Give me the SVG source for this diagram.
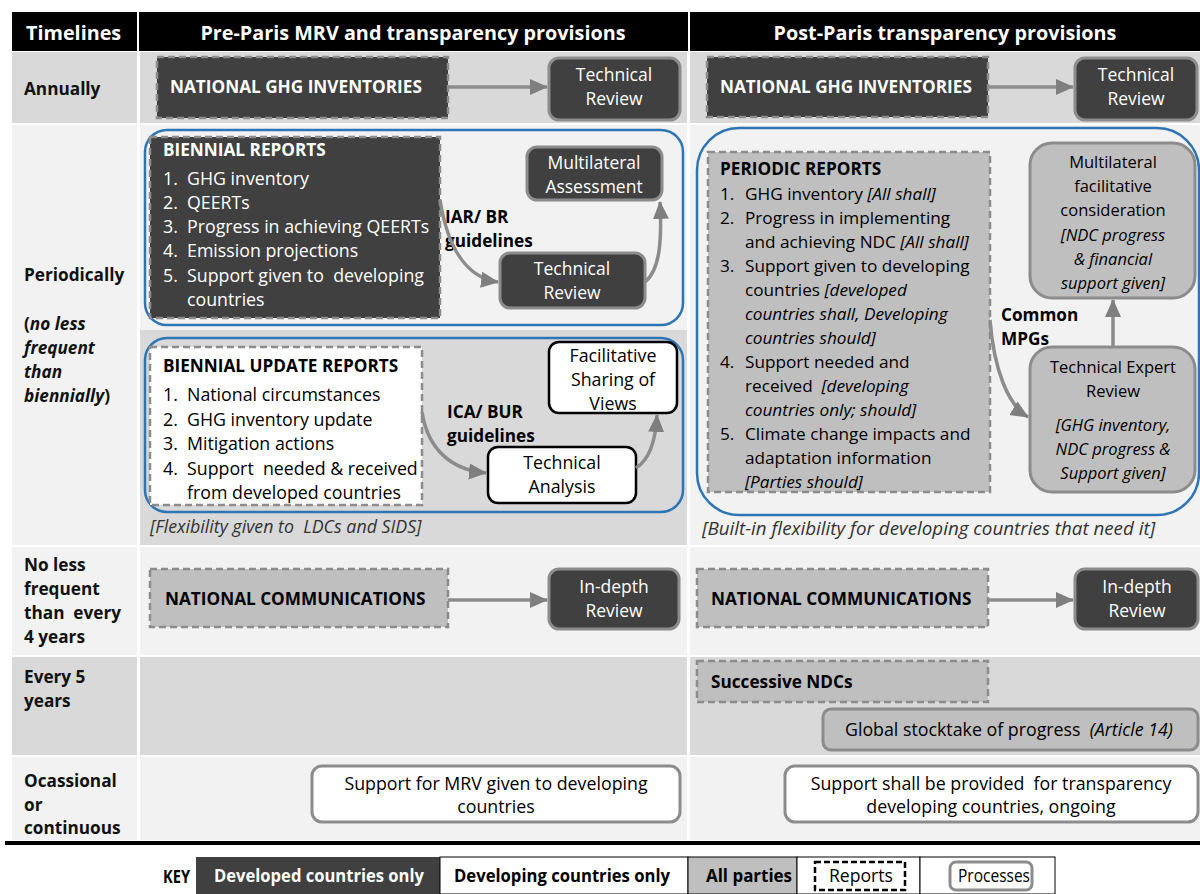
<svg xmlns="http://www.w3.org/2000/svg" width="1200" height="894" viewBox="0 0 1200 894">
<defs>
<marker id="ah" markerWidth="20" markerHeight="20" refX="17" refY="9" orient="auto" markerUnits="userSpaceOnUse">
<path d="M0,1 L18,9 L0,17 Z" fill="#7f7f7f"/>
</marker>
</defs>
<style>
text{font-family:"Open Sans","Liberation Sans",sans-serif;font-size:17.5px;}
.b{font-weight:bold;font-size:17.2px;}
.i{font-style:italic;}
.w{fill:#ffffff;}
.k{fill:#000000;}
.hd{font-size:19.8px;font-weight:bold;fill:#fff;}
.tl{font-size:17.2px;font-weight:bold;fill:#111;}
.rl{font-size:17.2px;}
.rb{font-size:16.5px;}
.big{font-size:17.8px;}
.kt{font-size:18.5px;}
.c{text-anchor:middle;}
.dark{fill:#404040;}
.rep{stroke:#8c8c8c;stroke-width:2.5;stroke-dasharray:7,4;}
.proc{stroke:#8c8c8c;stroke-width:3;}
.blue{fill:none;stroke:#2e75b6;stroke-width:2.5;}
.conn path{fill:none;stroke:#8c8c8c;stroke-width:3.5;marker-end:url(#ah);}
</style>
<rect x="0" y="0" width="1200" height="894" fill="#ffffff"/>
<g id="grid">
<rect x="12" y="12" width="1188" height="39" fill="#000"/>
<rect x="137" y="12" width="2" height="39" fill="#fff"/>
<rect x="688" y="12" width="2" height="39" fill="#fff"/>
<rect x="12" y="52" width="1188" height="71" fill="#d9d9d9"/>
<rect x="12" y="125" width="1188" height="420" fill="#f2f2f2"/>
<rect x="140" y="330" width="547" height="215" fill="#d9d9d9"/>
<rect x="12" y="547" width="1188" height="108" fill="#f2f2f2"/>
<rect x="12" y="657" width="1188" height="98" fill="#d9d9d9"/>
<rect x="12" y="757" width="1188" height="83" fill="#f2f2f2"/>
<rect x="137" y="52" width="3" height="788" fill="#fff"/>
<rect x="687" y="52" width="3" height="788" fill="#fff"/>
<rect x="12" y="123" width="1188" height="2" fill="#fff"/>
<rect x="12" y="545" width="1188" height="2" fill="#fff"/>
<rect x="12" y="655" width="1188" height="2" fill="#fff"/>
<rect x="12" y="755" width="1188" height="2" fill="#fff"/>
<rect x="5" y="841" width="1195" height="4" fill="#000"/>
</g>
<g id="headers">
<text x="26" y="40" class="hd">Timelines</text>
<text x="413" y="40" class="hd c">Pre-Paris MRV and transparency provisions</text>
<text x="945" y="40" class="hd c">Post-Paris transparency provisions</text>
</g>
<g id="timeline-labels">
<text x="24" y="95" class="tl">Annually</text>
<text x="24" y="281" class="tl">Periodically</text>
<text x="24" y="330" class="tl">(<tspan class="i">no less</tspan></text>
<text x="24" y="354" class="tl i">frequent</text>
<text x="24" y="378" class="tl i">than</text>
<text x="24" y="402" class="tl"><tspan class="i">biennially</tspan>)</text>
<text x="24" y="571" class="tl">No less</text>
<text x="24" y="595" class="tl">frequent</text>
<text x="24" y="619" class="tl" xml:space="preserve">than  every</text>
<text x="24" y="643" class="tl">4 years</text>
<text x="24" y="683" class="tl">Every 5</text>
<text x="24" y="707" class="tl">years</text>
<text x="24" y="787" class="tl">Ocassional</text>
<text x="24" y="811" class="tl">or</text>
<text x="24" y="834" class="tl">continuous</text>
</g>
<g id="groupings">
<rect x="145" y="130" width="538" height="195" rx="22" class="blue"/>
<rect x="145" y="338" width="538" height="174" rx="22" class="blue"/>
<rect x="697" y="128" width="502" height="387" rx="42" class="blue"/>
</g>
<g id="ghg-pre">
<rect x="157" y="57" width="291" height="61" class="dark rep"/>
<text x="170" y="93" class="b w">NATIONAL GHG INVENTORIES</text>
</g>
<g id="tr-pre">
<rect x="549" y="58" width="131" height="62" rx="10" class="dark proc"/>
<text x="614" y="81" class="w c">Technical</text>
<text x="614" y="105" class="w c">Review</text>
</g>
<g id="ghg-post">
<rect x="707" y="57" width="281" height="60" class="dark rep"/>
<text x="720" y="93" class="b w">NATIONAL GHG INVENTORIES</text>
</g>
<g id="tr-post">
<rect x="1075" y="58" width="122" height="62" rx="10" class="dark proc"/>
<text x="1136" y="81" class="w c">Technical</text>
<text x="1136" y="105" class="w c">Review</text>
</g>
<g id="br">
<rect x="150" y="137" width="290" height="181" class="dark rep"/>
<text x="163" y="156" class="b w">BIENNIAL REPORTS</text>
<text x="163" y="185" class="w big">1.</text><text x="187" y="185" class="w big">GHG inventory</text>
<text x="163" y="209" class="w big">2.</text><text x="187" y="209" class="w big">QEERTs</text>
<text x="163" y="233" class="w big">3.</text><text x="187" y="233" class="w big">Progress in achieving QEERTs</text>
<text x="163" y="257" class="w big">4.</text><text x="187" y="257" class="w big">Emission projections</text>
<text x="163" y="282" class="w big">5.</text><text x="187" y="282" class="w big" xml:space="preserve">Support given to  developing</text>
<text x="187" y="306" class="w big">countries</text>
</g>
<g id="ma">
<rect x="527" y="147" width="135" height="53" rx="10" class="dark proc"/>
<text x="594" y="169" class="w c">Multilateral</text>
<text x="594" y="193" class="w c">Assessment</text>
</g>
<g id="tr-br">
<rect x="500" y="253" width="145" height="55" rx="10" class="dark proc"/>
<text x="572" y="275" class="w c">Technical</text>
<text x="572" y="299" class="w c">Review</text>
</g>
<text x="445" y="223" class="b k">IAR/ BR</text>
<text x="445" y="247" class="b k">guidelines</text>
<g id="bur">
<rect x="150" y="347" width="272" height="158" fill="#ffffff" class="rep"/>
<text x="163" y="372" class="b k">BIENNIAL UPDATE REPORTS</text>
<text x="163" y="401" class="k big">1.</text><text x="187" y="401" class="k big">National circumstances</text>
<text x="163" y="426" class="k big">2.</text><text x="187" y="426" class="k big">GHG inventory update</text>
<text x="163" y="450" class="k big">3.</text><text x="187" y="450" class="k big">Mitigation actions</text>
<text x="163" y="475" class="k big">4.</text><text x="187" y="475" class="k big" xml:space="preserve">Support  needed &amp; received</text>
<text x="187" y="499" class="k big">from developed countries</text>
</g>
<g id="fsv">
<rect x="549" y="342" width="128" height="71" rx="10" fill="#fff" stroke="#000" stroke-width="2.5"/>
<text x="613" y="362" class="k c big">Facilitative</text>
<text x="613" y="386" class="k c big">Sharing of</text>
<text x="613" y="410" class="k c big">Views</text>
</g>
<g id="ta">
<rect x="488" y="447" width="148" height="56" rx="10" fill="#fff" stroke="#000" stroke-width="2.5"/>
<text x="562" y="469" class="k c big">Technical</text>
<text x="562" y="493" class="k c big">Analysis</text>
</g>
<text x="447" y="418" class="b k">ICA/ BUR</text>
<text x="447" y="442" class="b k">guidelines</text>
<text x="150" y="533" class="i big" fill="#333" xml:space="preserve">[Flexibility given to  LDCs and SIDS]</text>
<g id="pr">
<rect x="708" y="152" width="282" height="340" fill="#bfbfbf" class="rep"/>
<text x="720" y="175" class="b k">PERIODIC REPORTS</text>
<text x="720" y="200" class="k rl">1.</text><text x="745" y="200" class="k rl">GHG inventory <tspan class="i">[All shall]</tspan></text>
<text x="720" y="224" class="k rl">2.</text><text x="745" y="224" class="k rl">Progress in implementing</text>
<text x="745" y="248" class="k rl">and achieving NDC <tspan class="i">[All shall]</tspan></text>
<text x="720" y="272" class="k rl">3.</text><text x="745" y="272" class="k rl">Support given to developing</text>
<text x="745" y="296" class="k rl">countries <tspan class="i">[developed</tspan></text>
<text x="745" y="320" class="k i rl">countries shall, Developing</text>
<text x="745" y="344" class="k i rl">countries should]</text>
<text x="720" y="368" class="k rl">4.</text><text x="745" y="368" class="k rl">Support needed and</text>
<text x="745" y="392" class="k rl" xml:space="preserve">received  <tspan class="i">[developing</tspan></text>
<text x="745" y="416" class="k i rl">countries only; should]</text>
<text x="720" y="440" class="k rl">5.</text><text x="745" y="440" class="k rl">Climate change impacts and</text>
<text x="745" y="464" class="k rl">adaptation information</text>
<text x="745" y="488" class="k i rl">[Parties should]</text>
</g>
<g id="mfc">
<rect x="1030" y="143" width="165" height="155" rx="22" fill="#bfbfbf" class="proc"/>
<text x="1113" y="168" class="k c rb">Multilateral</text>
<text x="1113" y="192" class="k c rb">facilitative</text>
<text x="1113" y="216" class="k c rb">consideration</text>
<text x="1113" y="241" class="k c i rb">[NDC progress</text>
<text x="1113" y="265" class="k c i rb">&amp; financial</text>
<text x="1113" y="289" class="k c i rb">support given]</text>
</g>
<g id="ter">
<rect x="1030" y="347" width="165" height="145" rx="22" fill="#bfbfbf" class="proc"/>
<text x="1113" y="373" class="k c rb">Technical Expert</text>
<text x="1113" y="397" class="k c rb">Review</text>
<text x="1113" y="431" class="k c i rb">[GHG inventory,</text>
<text x="1113" y="455" class="k c i rb">NDC progress &amp;</text>
<text x="1113" y="479" class="k c i rb">Support given]</text>
</g>
<text x="1001" y="321" class="b k">Common</text>
<text x="1001" y="345" class="b k">MPGs</text>
<text x="702" y="535" class="i" fill="#333" style="font-size:18.8px">[Built-in flexibility for developing countries that need it]</text>
<g id="nc-pre">
<rect x="150" y="569" width="298" height="58" fill="#bfbfbf" class="rep"/>
<text x="165" y="605" class="b k">NATIONAL COMMUNICATIONS</text>
</g>
<g id="idr-pre">
<rect x="549" y="569" width="130" height="60" rx="10" class="dark proc"/>
<text x="614" y="593" class="w c">In-depth</text>
<text x="614" y="617" class="w c">Review</text>
</g>
<g id="nc-post">
<rect x="697" y="569" width="291" height="58" fill="#bfbfbf" class="rep"/>
<text x="711" y="605" class="b k">NATIONAL COMMUNICATIONS</text>
</g>
<g id="idr-post">
<rect x="1075" y="569" width="123" height="60" rx="10" class="dark proc"/>
<text x="1137" y="593" class="w c">In-depth</text>
<text x="1137" y="617" class="w c">Review</text>
</g>
<g id="ndc">
<rect x="697" y="661" width="291" height="41" fill="#bfbfbf" class="rep"/>
<text x="711" y="688" class="b k">Successive NDCs</text>
</g>
<g id="gst">
<rect x="823" y="709" width="375" height="41" rx="8" fill="#bfbfbf" class="proc"/>
<text x="845" y="736" class="k big" xml:space="preserve">Global stocktake of progress  <tspan class="i">(Article 14)</tspan></text>
</g>
<g id="sup-pre">
<rect x="312" y="766" width="368" height="56" rx="10" fill="#fff" class="proc"/>
<text x="496" y="790" class="k c big">Support for MRV given to developing</text>
<text x="496" y="813" class="k c big">countries</text>
</g>
<g id="sup-post">
<rect x="785" y="766" width="413" height="56" rx="10" fill="#fff" class="proc"/>
<text x="991" y="790" class="k c big" xml:space="preserve">Support shall be provided  for transparency</text>
<text x="991" y="813" class="k c big">developing countries, ongoing</text>
</g>
<g id="connectors" class="conn">
<path d="M448,87 L547,87"/>
<path d="M988,87 L1073,87"/>
<path d="M440,200 C448,250 468,278 498,282"/>
<path d="M645,282 C660,270 662,240 660,202"/>
<path d="M422,412 C428,450 452,470 486,473"/>
<path d="M636,468 C652,458 656,435 657,415"/>
<path d="M990,320 C994,370 1008,405 1028,417"/>
<path d="M1113,347 L1113,300"/>
<path d="M448,600 L547,600"/>
<path d="M988,600 L1073,600"/>
</g>
<g id="key">
<text x="163" y="883" class="b k kt" textLength="27" lengthAdjust="spacingAndGlyphs">KEY</text>
<rect x="196" y="857" width="244" height="37" fill="#404040"/>
<text x="214" y="882" class="b w kt" textLength="210" lengthAdjust="spacingAndGlyphs">Developed countries only</text>
<rect x="440" y="857" width="248" height="37" fill="#fff" stroke="#000" stroke-width="1"/>
<text x="454" y="882" class="b k kt" textLength="216" lengthAdjust="spacingAndGlyphs">Developing countries only</text>
<rect x="688" y="857" width="109" height="37" fill="#bfbfbf" stroke="#000" stroke-width="1"/>
<text x="706" y="882" class="b k kt" textLength="86" lengthAdjust="spacingAndGlyphs">All parties</text>
<rect x="797" y="857" width="123" height="37" fill="#fff" stroke="#000" stroke-width="1"/>
<rect x="815" y="862" width="90" height="28" fill="#fff" stroke="#000" stroke-width="2.5" stroke-dasharray="6,3"/>
<text x="829" y="882" class="k kt" textLength="64" lengthAdjust="spacingAndGlyphs">Reports</text>
<rect x="920" y="857" width="135" height="37" fill="#fff" stroke="#000" stroke-width="1"/>
<rect x="950" y="862" width="82" height="28" rx="6" fill="#fff" class="proc"/>
<text x="958" y="882" class="k kt" textLength="72" lengthAdjust="spacingAndGlyphs">Processes</text>
</g>
</svg>
